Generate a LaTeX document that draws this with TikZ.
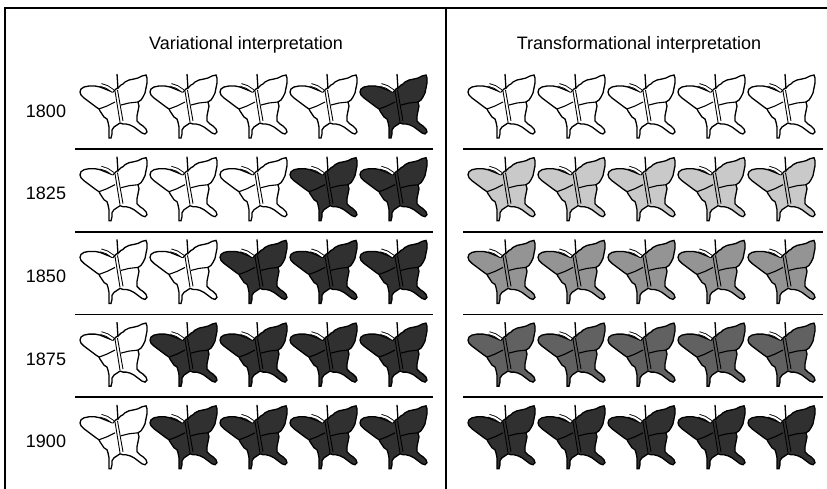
\documentclass[tikz,border=0pt]{standalone}
\usepackage{fontspec}
\setmainfont{Liberation Sans}
\definecolor{wingdark}{gray}{0.19}
\definecolor{wingdeep}{gray}{0.38}
\definecolor{wingmid}{gray}{0.58}
\definecolor{winglight}{gray}{0.79}
\begin{document}
\begin{tikzpicture}[x=1pt, y=-1pt,
  rule/.style={line width=1.6pt},
  yearlab/.style={font=\fontsize{18}{22}\selectfont},
  titlelab/.style={font=\fontsize{18}{22}\selectfont},
  pics/butterfly/.style={code={
    \draw[line width=1.3pt, fill=#1] (37,18) -- (40,16) -- (42,14) -- (44,13) -- (46,11) -- (50,9) -- (55,8) -- (59,7) -- (63,5) -- (67,4) -- (68,7) -- (68,12) -- (67,17) -- (66,22) -- (64,26) -- (62,29) -- (59,31) -- (60,35) -- (59,40) -- (58,45) -- (58,50) -- (61,53) -- (64,55) -- (67,58) -- (68,61) -- (66,63) -- (63,62) -- (59,59) -- (55,56) -- (51,54) -- (47,53) -- (44,53) -- (41,52) -- (38,54) -- (35,56) -- (33,59) -- (33,63) -- (32,67) -- (30,67) -- (30,62) -- (30,56) -- (29,51) -- (28,48) -- (25,46) -- (23,43) -- (21,40) -- (20,38) -- (17,36) -- (13,33) -- (9,30) -- (5,27) -- (2,24) -- (1,21) -- (2,18) -- (5,16) -- (10,15) -- (16,15) -- (21,16) -- (26,18) -- (31,20) -- (34,21) -- cycle;
    \draw[line width=0.9pt] (36,20) -- (41,51);
    \draw[line width=0.9pt] (38.5,19) -- (44,50);
    \draw[line width=1.1pt] (20,38) -- (28,35) -- (36,31);
    \draw[line width=1.1pt] (42,34) -- (50,32) -- (59,31);
    \draw[line width=1.3pt] (38,3) -- (39,18);
    \draw[line width=0.9pt, double=white, double distance=2pt] (22,14) -- (28,16) -- (34,20);
  }}]
\useasboundingbox (0,0) rectangle (827,489);
\coordinate (tl) at (5,8);
\coordinate (tr) at (827,8);
\coordinate (bl) at (5,489);
\coordinate (mt) at (446,8);
\coordinate (mb) at (446,489);
\draw[rule] (tr) -- (tl) -- (bl);
\draw[rule] (mt) -- (mb);
\node[titlelab] (vartitle) at (246,45) {Variational interpretation};
\node[titlelab] (transtitle) at (639,45) {Transformational interpretation};
\foreach \r/\yr in {0/1800,1/1825,2/1850,3/1875,4/1900}{
  \node[yearlab] (y\yr) at (46,111+82.7*\r) {\yr};
}
\foreach \r in {1,...,4}{
  \coordinate (ls\r) at (75,66.3+82.7*\r);
  \coordinate (le\r) at (433,66.3+82.7*\r);
  \coordinate (rs\r) at (463,66.3+82.7*\r);
  \coordinate (re\r) at (823,66.3+82.7*\r);
  \draw[rule] (ls\r) -- (le\r);
  \draw[rule] (rs\r) -- (re\r);
}
\foreach \r/\n in {0/4,1/3,2/2,3/1,4/1}{
  \foreach \c in {0,...,4}{
    \ifnum\c<\n\relax
      \pic (vb\r\c) at (79+70*\c,71+82.7*\r) {butterfly=white};
    \else
      \pic (vb\r\c) at (79+70*\c,71+82.7*\r) {butterfly=wingdark};
    \fi
  }
}
\foreach \r/\fc in {0/white,1/winglight,2/wingmid,3/wingdeep,4/wingdark}{
  \foreach \c in {0,...,4}{
    \pic (tb\r\c) at (467+70*\c,71+82.7*\r) {butterfly=\fc};
  }
}
\end{tikzpicture}
\end{document}
